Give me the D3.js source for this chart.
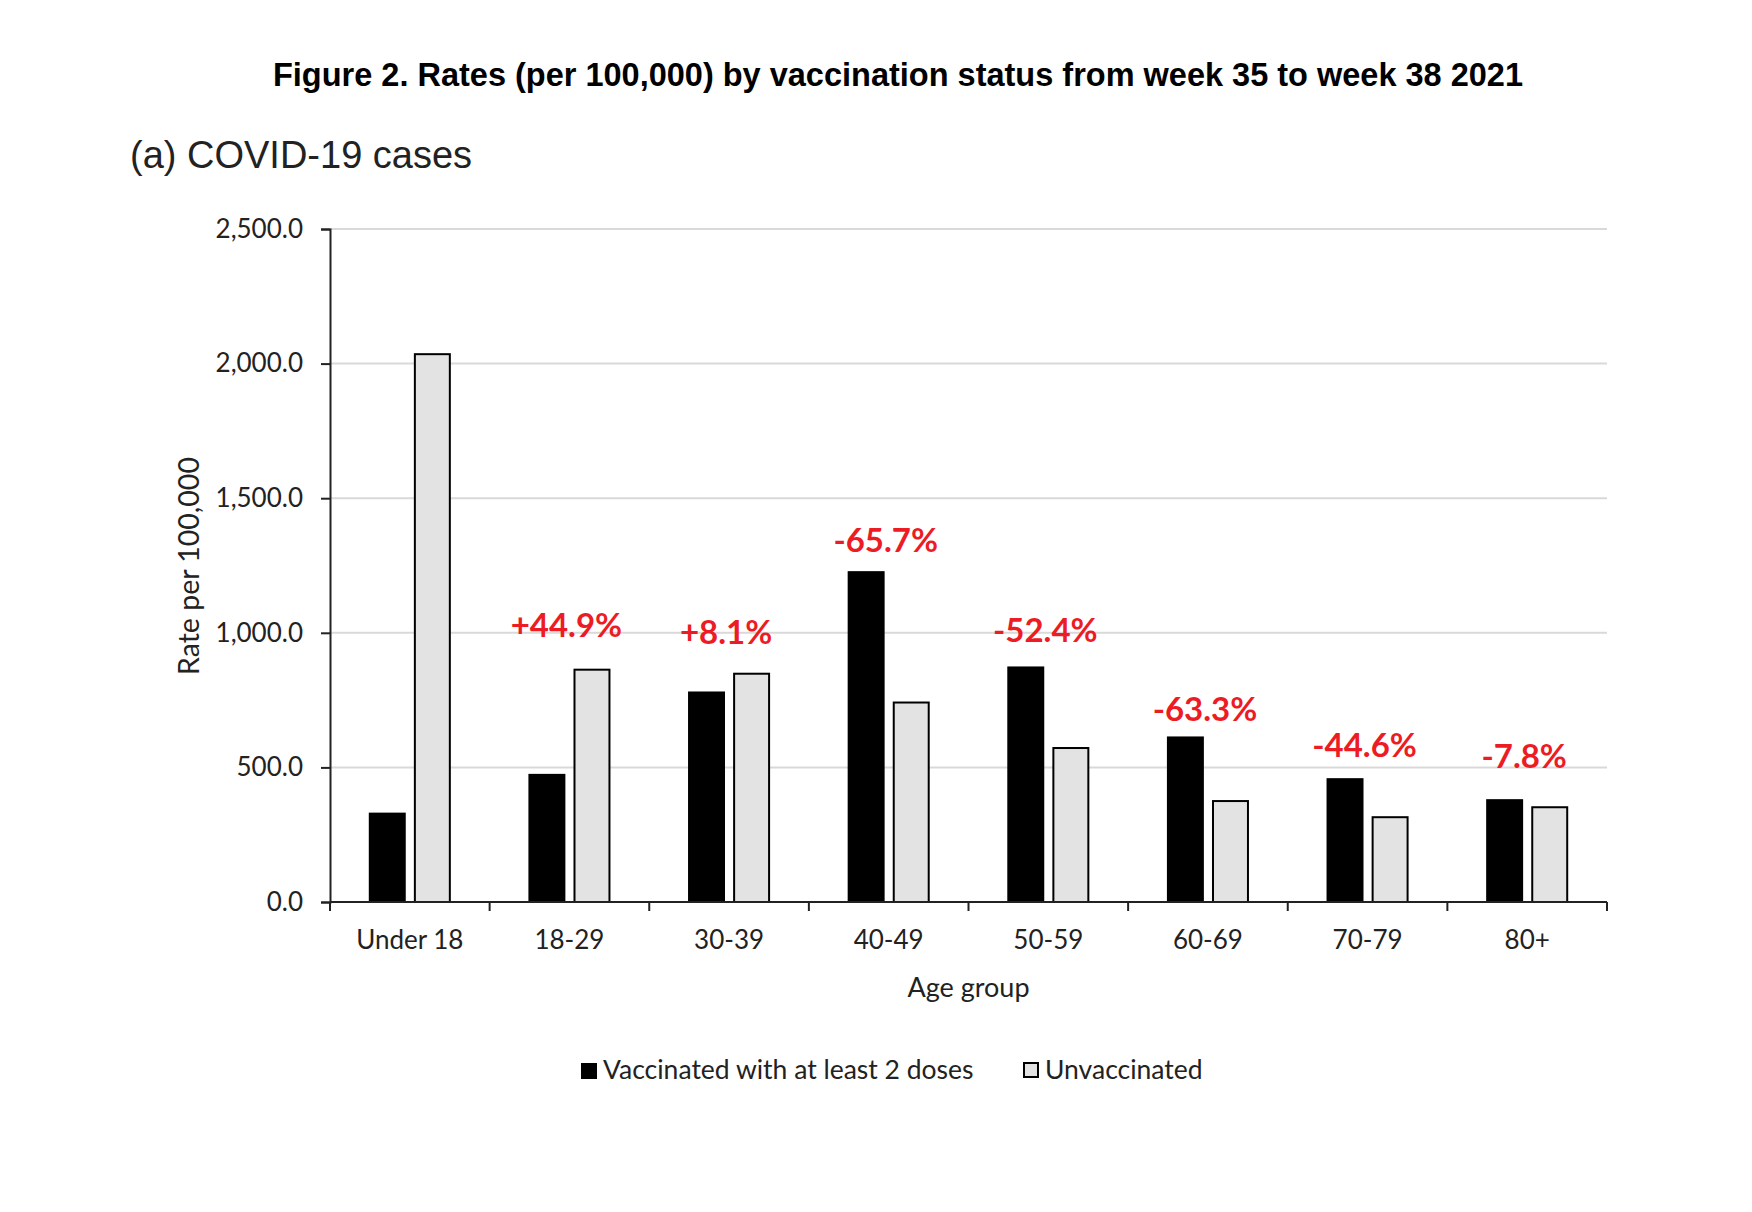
<!DOCTYPE html>
<html>
<head>
<meta charset="utf-8">
<script src="https://cdn.jsdelivr.net/npm/d3@7"></script>
<style>
  body { margin: 0; background: #fff; }
  svg { display: block; }
</style>
</head>
<body>
<script>
// chart data
var ageGroups = ["Under 18", "18-29", "30-39", "40-49", "50-59", "60-69", "70-79", "80+"];
var seriesNames = ["Vaccinated with at least 2 doses", "Unvaccinated"];
var vaccinated = [332, 476, 782, 1229, 875, 615, 460, 382];
var unvaccinated = [2035, 863, 848, 741, 572, 375, 315, 352];
var changeLabels = ["", "+44.9%", "+8.1%", "-65.7%", "-52.4%", "-63.3%", "-44.6%", "-7.8%"];
// rate level (per 100,000) where each change label sits in the original
var changeLabelAt = [0, 986, 960, 1302, 967, 673, 539, 498];
var yTicks = [0, 500, 1000, 1500, 2000, 2500];

window.onload = function(){

    var w = 1752, h = 1212;
    var plotLeft = 330, plotRight = 1607, plotTop = 229, plotBottom = 902;

    var svg = d3.select("body").append("svg")
        .attr("width", w)
        .attr("height", h)
        .style("background", "#fff");

    var rows = ageGroups.map(function(g, i){
        return { group: g, values: [vaccinated[i], unvaccinated[i]], label: changeLabels[i], at: changeLabelAt[i] };
    });

    // scales
    var x0 = d3.scaleBand()
        .domain(ageGroups)
        .range([plotLeft, plotRight])
        .paddingInner(0.486)
        .paddingOuter(0.243);

    var x1 = d3.scaleBand()
        .domain([0, 1])
        .range([0, x0.bandwidth()])
        .paddingInner(0.18);

    var y = d3.scaleLinear()
        .domain([0, 2500])
        .range([plotBottom, plotTop]);

    var fill = ["#000000", "#e3e3e3"];

    // gridlines
    svg.append("g")
        .selectAll("line")
        .data(yTicks.filter(function(d){ return d > 0; }))
        .enter().append("line")
        .attr("x1", plotLeft).attr("x2", plotRight)
        .attr("y1", function(d){ return y(d); })
        .attr("y2", function(d){ return y(d); })
        .attr("stroke", "#d9d9d9")
        .attr("stroke-width", 2);

    // bars
    var groups = svg.append("g")
        .selectAll("g")
        .data(rows)
        .enter().append("g")
        .attr("transform", function(d){ return "translate(" + x0(d.group) + ",0)"; });

    groups.selectAll("rect")
        .data(function(d){ return d.values; })
        .enter().append("rect")
        .attr("x", function(d, i){ return x1(i) + (i === 1 ? 1 : 0); })
        .attr("width", function(d, i){ return x1.bandwidth() - (i === 1 ? 2 : 0); })
        .attr("y", function(d){ return y(d); })
        .attr("height", function(d){ return plotBottom - y(d); })
        .attr("fill", function(d, i){ return fill[i]; })
        .attr("stroke", "#000")
        .attr("stroke-width", function(d, i){ return i === 1 ? 2 : 0; });

    // y axis
    var yAxis = svg.append("g")
        .attr("transform", "translate(" + plotLeft + ",0)")
        .call(d3.axisLeft(y)
            .tickValues(yTicks)
            .tickSize(9)
            .tickPadding(18)
            .tickFormat(d3.format(",.1f")));

    yAxis.select(".domain").attr("stroke", "#222").attr("stroke-width", 2);
    yAxis.selectAll(".tick line").attr("stroke", "#222").attr("stroke-width", 2);
    yAxis.selectAll(".tick text")
        .attr("font-family", "Lato, 'Open Sans', sans-serif")
        .attr("font-size", 26)
        .attr("fill", "#222");

    // x axis: ticks sit on band boundaries
    var xAxis = svg.append("g")
        .attr("transform", "translate(0," + plotBottom + ")");

    xAxis.append("line")
        .attr("x1", plotLeft).attr("x2", plotRight)
        .attr("stroke", "#222").attr("stroke-width", 2);

    var bounds = ageGroups.map(function(g){ return x0(g) - x0.step() * x0.paddingInner() / 2; })
        .concat([plotRight]);

    xAxis.selectAll(".xtick")
        .data(bounds)
        .enter().append("line")
        .attr("class", "xtick")
        .attr("x1", function(d){ return d; })
        .attr("x2", function(d){ return d; })
        .attr("y1", 0).attr("y2", 9)
        .attr("stroke", "#222").attr("stroke-width", 2);

    xAxis.selectAll(".xlabel")
        .data(ageGroups)
        .enter().append("text")
        .attr("class", "xlabel")
        .attr("x", function(d){ return x0(d) + x0.bandwidth() / 2; })
        .attr("y", 47)
        .attr("text-anchor", "middle")
        .attr("font-family", "Lato, 'Open Sans', sans-serif")
        .attr("font-size", 26)
        .attr("fill", "#222")
        .text(function(d){ return d; });

    // change annotations
    svg.selectAll(".change")
        .data(rows.filter(function(d){ return d.label; }))
        .enter().append("text")
        .attr("class", "change")
        .attr("x", function(d){ return x0(d.group) + x0.bandwidth() / 2 - 3; })
        .attr("y", function(d){ return y(d.at); })
        .attr("text-anchor", "middle")
        .attr("font-family", "Lato, 'Open Sans', sans-serif")
        .attr("font-weight", "bold")
        .attr("font-size", 33)
        .attr("fill", "#ed1c24")
        .text(function(d){ return d.label; });

    // axis titles
    svg.append("text")
        .attr("x", (plotLeft + plotRight) / 2)
        .attr("y", 997)
        .attr("text-anchor", "middle")
        .attr("font-family", "Lato, 'Open Sans', sans-serif")
        .attr("font-size", 27)
        .attr("fill", "#222")
        .text("Age group");

    svg.append("text")
        .attr("transform", "translate(199,566) rotate(-90)")
        .attr("text-anchor", "middle")
        .attr("font-family", "Lato, 'Open Sans', sans-serif")
        .attr("font-size", 28.5)
        .attr("fill", "#222")
        .text("Rate per 100,000");

    // titles
    svg.append("text")
        .attr("x", 898)
        .attr("y", 86)
        .attr("text-anchor", "middle")
        .attr("font-family", "'Liberation Sans', Arial, sans-serif")
        .attr("font-weight", "bold")
        .attr("font-size", 32.5)
        .attr("fill", "#000")
        .text("Figure 2. Rates (per 100,000) by vaccination status from week 35 to week 38 2021");

    svg.append("text")
        .attr("x", 130)
        .attr("y", 168)
        .attr("font-family", "'Liberation Sans', Arial, sans-serif")
        .attr("font-size", 38)
        .attr("fill", "#222")
        .text("(a) COVID-19 cases");

    // legend
    var legend = svg.append("g")
        .selectAll("g")
        .data(seriesNames)
        .enter().append("g")
        .attr("transform", function(d, i){ return "translate(" + (i === 0 ? 581 : 1023) + ",1062)"; });

    legend.append("rect")
        .attr("x", function(d, i){ return i === 1 ? 1 : 0; })
        .attr("y", 1)
        .attr("width", function(d, i){ return i === 1 ? 14 : 16; })
        .attr("height", function(d, i){ return i === 1 ? 14 : 16; })
        .attr("fill", function(d, i){ return fill[i]; })
        .attr("stroke", "#000")
        .attr("stroke-width", function(d, i){ return i === 1 ? 2 : 0; });

    legend.append("text")
        .attr("x", 22)
        .attr("y", 17)
        .attr("font-family", "Lato, 'Open Sans', sans-serif")
        .attr("font-size", 26.5)
        .attr("fill", "#222")
        .text(function(d){ return d; });
};
</script>
</body>
</html>
